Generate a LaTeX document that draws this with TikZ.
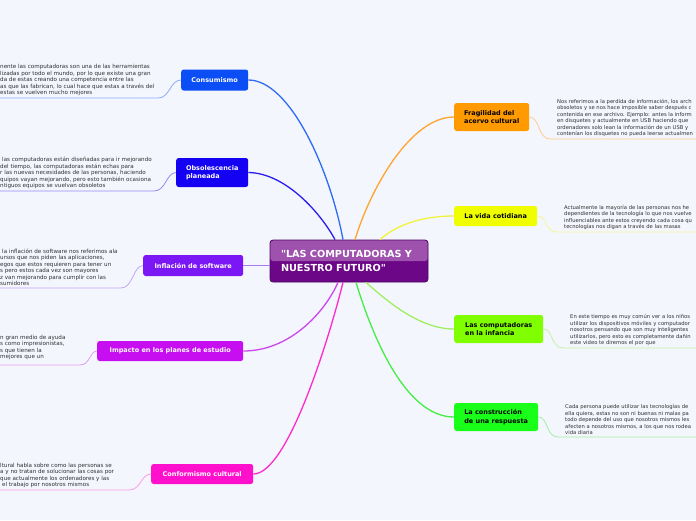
\documentclass[tikz,border=0pt]{standalone}
\usepackage{fontspec}
\setmainfont{DejaVu Sans}[Ligatures=TeXOff]
\usetikzlibrary{calc}
\definecolor{bg}{HTML}{F4F6FD}
\definecolor{ctrdark}{HTML}{6C0787}
\definecolor{ctrlight}{HTML}{9E52AE}
\definecolor{ctrborder}{HTML}{4E0562}
\definecolor{notetext}{HTML}{303030}
% branch colours
\definecolor{cA}{HTML}{0B4EF6}\definecolor{lA}{HTML}{2E6CF6}\definecolor{uA}{HTML}{8DADF8}
\definecolor{cB}{HTML}{1400F2}\definecolor{lB}{HTML}{2C1EEE}\definecolor{uB}{HTML}{9488F5}
\definecolor{cC}{HTML}{7B16F4}\definecolor{lC}{HTML}{A57CF4}\definecolor{uC}{HTML}{C4A6F6}
\definecolor{cD}{HTML}{C60EF0}\definecolor{lD}{HTML}{CC45EE}\definecolor{uD}{HTML}{E49AF4}
\definecolor{cE}{HTML}{FF10CC}\definecolor{lE}{HTML}{FF2ACC}\definecolor{uE}{HTML}{FF9AE4}
\definecolor{cF}{HTML}{FF9A00}\definecolor{lF}{HTML}{FFA42E}\definecolor{uF}{HTML}{FFCB8E}
\definecolor{cG}{HTML}{F0FF00}\definecolor{lG}{HTML}{F2F23C}\definecolor{uG}{HTML}{F4F49A}
\definecolor{cH}{HTML}{80FF00}\definecolor{lH}{HTML}{A2EE62}\definecolor{uH}{HTML}{C6F2A4}
\definecolor{cI}{HTML}{1AFF1A}\definecolor{lI}{HTML}{44EE44}\definecolor{uI}{HTML}{9EF29E}
\tikzset{
  ctrbox/.style={draw=ctrborder, line width=0.8pt, fill=ctrdark, rounded corners=3pt,
    minimum width=158pt, minimum height=42pt, inner xsep=11pt, inner ysep=0pt,
    text width=136pt, align=left, text=white,
    font=\bfseries\fontsize{9.7}{13.5}\selectfont,
    path picture={\fill[ctrlight] (path picture bounding box.north west) rectangle (path picture bounding box.east);}},
  bnode/.style={rounded corners=2.5pt, inner sep=0pt, align=left, anchor=west,
    font=\bfseries\fontsize{6.5}{8.4}\selectfont},
  wnode/.style={bnode, text=white},
  knode/.style={bnode, text=black},
  conn/.style={line width=1.3pt},
  uline/.style={line width=0.8pt},
  note/.style={inner sep=0pt, align=left, text=notetext, font=\fontsize{5.6}{6.5}\selectfont},
  rnote/.style={note, font=\fontsize{5.25}{6.5}\selectfont},
}
\begin{document}
\begin{tikzpicture}[x=1pt,y=-1pt]
\useasboundingbox[fill=bg] (0,0) rectangle (696,520);

% central node
\node[ctrbox] (ctr) at (349,261) {"LAS COMPUTADORAS Y\\NUESTRO FUTURO"};

% left branches
\node[wnode, fill=cA, minimum width=67pt, minimum height=21pt] (cons) at (181,80) {Consumismo};
\node[wnode, fill=cB, minimum width=72pt, minimum height=29pt] (obs) at (176,172.5) {Obsolescencia\\planeada};
\node[wnode, fill=cC, minimum width=100pt, minimum height=21pt] (inf) at (143,265.5) {Inflación de software};
\node[wnode, fill=cD, minimum width=146pt, minimum height=20pt] (imp) at (97,351) {Impacto en los planes de estudio};
\node[wnode, fill=cE, minimum width=102pt, minimum height=20pt] (conf) at (151,474) {Conformismo cultural};

% right branches
\node[knode, fill=cF, minimum width=75pt, minimum height=28pt] (frag) at (454,117) {Fragilidad del\\acervo cultural};
\node[knode, fill=cG, minimum width=83pt, minimum height=20pt] (vida) at (454,216) {La vida cotidiana};
\node[knode, fill=cH, minimum width=89pt, minimum height=28pt] (infa) at (454,329) {Las computadoras\\en la infancia};
\node[knode, fill=cI, minimum width=84pt, minimum height=28pt] (resp) at (454,417) {La construcción\\de una respuesta};

% connectors from centre
\draw[conn, lA] (cons.east) .. controls (290,80) and (330,170) .. ([xshift=-6pt]ctr.north);
\draw[conn, lB] (obs.east) .. controls (285,173) and (320,212) .. ([xshift=-14pt]ctr.north);
\draw[conn, lC] (inf.east) -- (ctr.west |- inf.east);
\draw[conn, lD] (imp.east) .. controls (290,351) and (325,312) .. ([xshift=-11pt]ctr.south);
\draw[conn, lE] (conf.east) .. controls (288,474) and (330,335) .. ([xshift=-6pt]ctr.south);
\draw[conn, lF] (frag.west) .. controls (410,117) and (370,190) .. ([xshift=6pt]ctr.north);
\draw[conn, lG] (vida.west) .. controls (420,216) and (395,226) .. ([xshift=31pt]ctr.north);
\draw[conn, lH] (infa.west) .. controls (420,329) and (388,302) .. ([xshift=17pt]ctr.south);
\draw[conn, lI] (resp.west) .. controls (405,417) and (372,335) .. ([xshift=7pt]ctr.south);

% note underlines
\coordinate (nA) at (0,98);
\coordinate (nB) at (0,191);
\coordinate (nC) at (0,288);
\coordinate (nD) at (0,365);
\coordinate (nE) at (0,490);
\coordinate (nF) at (696,139);
\coordinate (nG) at (696,232);
\coordinate (nH) at (696,348);
\coordinate (nI) at (696,437);
\draw[uline, uA] (cons.west) .. controls (170,80) and (170,98) .. (158,98) -- (nA);
\draw[uline, uB] (obs.west) .. controls (166,173) and (166,191) .. (154,191) -- (nB);
\draw[uline, uC] (inf.west) .. controls (133,266) and (133,288) .. (121,288) -- (nC);
\draw[uline, uD] (imp.west) .. controls (90,351) and (90,365) .. (80,365) -- (nD);
\draw[uline, uE] (conf.west) .. controls (141,474) and (141,490) .. (129,490) -- (nE);
\draw[uline, uF] (frag.east) .. controls (540,117) and (538,139) .. (550,139) -- (nF);
\draw[uline, uG] (vida.east) .. controls (547,216) and (545,232) .. (557,232) -- (nG);
\draw[uline, uH] (infa.east) .. controls (553,329) and (551,348) .. (563,348) -- (nH);
\draw[uline, uI] (resp.east) .. controls (548,417) and (546,437) .. (558,437) -- (nI);

% note texts
\node[note, anchor=south west] (tA) at (0,96) {nente las computadoras son una de las herramientas\\lizadas por todo el mundo, por lo que existe una gran\\da de estas creando una competencia entre las\\as que las fabrican, lo cual hace que estas a través del\\estas se vuelven mucho mejores};
\node[note, anchor=south west] (tB) at (0,189) {\hspace{2pt}las computadoras están diseñadas para ir mejorando\\del tiempo, las computadoras están echas para\\r las nuevas necesidades de las personas, haciendo\\quipos vayan mejorando, pero esto también ocasiona\\ntiguos equipos se vuelvan obsoletos};
\node[note, anchor=south west] (tC) at (0,286) {\hspace{2pt}la inflación de software nos referimos ala\\ursos que nos piden las aplicaciones,\\egos que estos requieren para tener un\\s pero estos cada vez son mayores\\z van mejorando para cumplir con las\\sumidores};
\node[note, anchor=south west] (tD) at (0,360) {n gran medio de ayuda\\s como impresionistas,\\s que tienen la\\mejores que un};
\node[note, anchor=south west] (tE) at (0,488) {ltural habla sobre como las personas se\\a y no tratan de solucionar las cosas por\\que actualmente los ordenadores y las\\\hspace{2pt}el trabajo por nosotros mismos};
\node[rnote, anchor=south west] (tF) at (557,137) {Nos referimos a la perdida de información, los arch\\obsoletos y se nos hace imposible saber después c\\contenida en ese archivo. Ejemplo: antes la inform\\en disquetes y actualmente en USB haciendo que\\ordenadores solo lean la información de un USB y\\contenían los disquetes no pueda leerse actualmen};
\node[rnote, anchor=south west] (tG) at (564,230) {Actualmente la mayoría de las personas nos he\\dependientes de la tecnología lo que nos vuelve\\influenciables ante estos creyendo cada cosa qu\\tecnologías nos digan a través de las masas};
\node[rnote, anchor=south west] (tH) at (570,346) {En este tiempo es muy común ver a los niños\\utilizar los dispositivos móviles y computador\\nosotros pensando que son muy inteligentes\\utilizarlos, pero esto es completamente dañin\\este video te diremos el por que};
\node[rnote, anchor=south west] (tI) at (565,435) {Cada persona puede utilizar las tecnologías de\\ella quiera, estas no son ni buenas ni malas pa\\todo depende del uso que nosotros mismos les\\afecten a nosotros mismos, a los que nos rodea\\vida diaria};
\end{tikzpicture}
\end{document}
